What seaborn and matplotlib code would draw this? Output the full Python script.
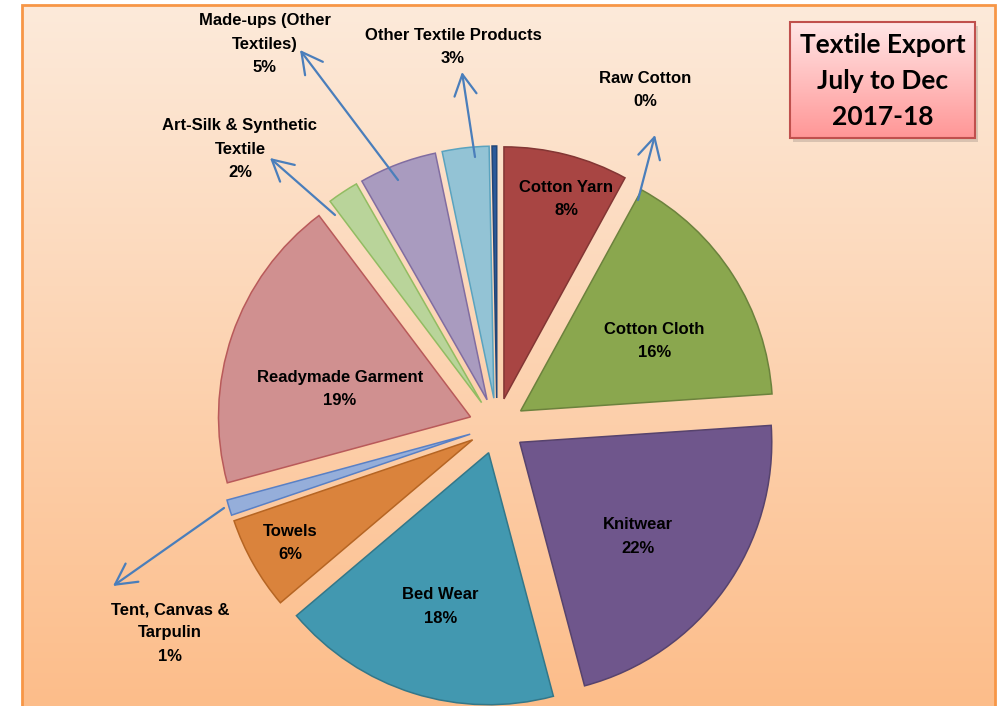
import colorsys
import numpy as np
import matplotlib
matplotlib.use('Agg')
import matplotlib.pyplot as plt
import matplotlib.colors as mcolors
from matplotlib.patches import Rectangle
import seaborn as sns

# data (clockwise from 12 o'clock)
categories = ['Cotton Yarn', 'Cotton Cloth', 'Knitwear', 'Bed Wear', 'Towels',
              'Tent, Canvas &\nTarpulin', 'Readymade Garment',
              'Art-Silk & Synthetic\nTextile', 'Made-ups (Other\nTextiles)',
              'Other Textile Products', 'Raw Cotton']
shares = [8, 16, 22, 18, 6, 1, 19, 2, 5, 3, 0.3]
slice_colors = ['#A84543', '#8AA74E', '#6F568C', '#4298B0', '#DA833C',
                '#95AEDA', '#D09090', '#B9D49A', '#A99BBF', '#93C3D5', '#2C5A9A']
title_lines = ['Textile Export', 'July to Dec', '2017-18']

# layout (pixel coords of the 1008x706 canvas, y from top)
W, H = 1008, 706
pie_cx, pie_cy, pie_r, pie_gap = 497, 426, 252, 28
inside = {0: (0.83, -3), 1: (0.6, -5), 2: (0.6, -3), 3: (0.64, 0),
          4: (0.83, 0), 6: (0.53, 7)}  # radius fraction, angle shift
outside = {  # text centre, arrow tail, arrow head
    10: ((645, 90), (638, 200), (655, 135)),
    9: ((453, 47), (475, 157), (462, 72)),
    8: ((265, 44), (398, 180), (300, 50)),
    7: ((240, 149), (335, 215), (270, 158)),
    5: ((170, 633), (224, 508), (113, 586)),
}

sns.set_theme(style='white')
label_font = ['Liberation Sans', 'DejaVu Sans']
title_font = ['Lato', 'DejaVu Sans']


def px(p):
    return (p[0], H - p[1])


def darker(c, f=0.78):
    r, g, b = mcolors.to_rgb(c)
    h, l, s = colorsys.rgb_to_hls(r, g, b)
    return sns.set_hls_values((r, g, b), l=l * f)


fig = plt.figure(figsize=(W / 100, H / 100), dpi=100)
ax = fig.add_axes([0, 0, 1, 1])

# background panel with vertical gradient
top = np.array([253, 234, 218]) / 255
bot = np.array([252, 189, 138]) / 255
t = np.linspace(0, 1, 256)[:, None]
grad = (top * (1 - t) + bot * t)[:, None, :]
ax.imshow(grad, extent=[22, 995, 0, H - 5], aspect='auto', zorder=0, origin='upper')
ax.add_patch(Rectangle((22, -5), 973, H - 5 + 5, fill=False, ec='#F79646', lw=2, zorder=1))

wedges, _ = ax.pie(shares, colors=slice_colors, explode=[pie_gap] * len(shares),
                   startangle=90, counterclock=False, radius=pie_r,
                   center=(pie_cx, H - pie_cy), frame=True,
                   wedgeprops=dict(linewidth=1.1))
for w, c in zip(wedges, slice_colors):
    w.set_edgecolor(darker(c))
    w.set_zorder(2)

total = sum(shares)
lab_kw = dict(ha='center', va='center', fontsize=12, fontweight='bold', color='black',
              family=label_font, linespacing=1.7, zorder=4)
for i, w in enumerate(wedges):
    pct = f'{shares[i] / total * 100:.0f}%'
    txt = f'{categories[i]}\n{pct}'
    if i in inside:
        frac, shift = inside[i]
        ang = np.deg2rad((w.theta1 + w.theta2) / 2 + shift)
        cx, cy = w.center
        d = frac * w.r
        ax.text(cx + d * np.cos(ang), cy + d * np.sin(ang), txt, **lab_kw)
    else:
        tp, tail, head = outside[i]
        ax.annotate('', xy=px(head), xytext=px(tail),
                    arrowprops=dict(arrowstyle='->,head_length=0.75,head_width=0.4',
                                    color='#4A7EBB', lw=1.6, mutation_scale=20,
                                    shrinkA=0, shrinkB=0), zorder=3)
        ax.text(*px(tp), txt, **lab_kw)

# title box
bx0, by0, bx1, by1 = 790, 22, 975, 138
ax.add_patch(Rectangle((bx0 + 3, H - by1 - 4), bx1 - bx0, by1 - by0, fc='#9a8a80',
                       ec='none', alpha=0.35, zorder=4))
pink_top = np.array([255, 230, 230]) / 255
pink_bot = np.array([255, 150, 150]) / 255
pg = (pink_top * (1 - t) + pink_bot * t)[:, None, :]
ax.imshow(pg, extent=[bx0, bx1, H - by1, H - by0], aspect='auto', zorder=5, origin='upper')
ax.add_patch(Rectangle((bx0, H - by1), bx1 - bx0, by1 - by0, fill=False,
                       ec='#C0504D', lw=1.5, zorder=6))
for k, line in enumerate(title_lines):
    ax.text((bx0 + bx1) / 2, H - (45 + 36 * k), line, ha='center', va='center',
            fontsize=19, fontweight='bold', color='black', family=title_font, zorder=7)

ax.set_xlim(0, W)
ax.set_ylim(0, H)
ax.set_aspect('auto')
ax.axis('off')
fig.savefig('out.png', dpi=100, facecolor='white')
